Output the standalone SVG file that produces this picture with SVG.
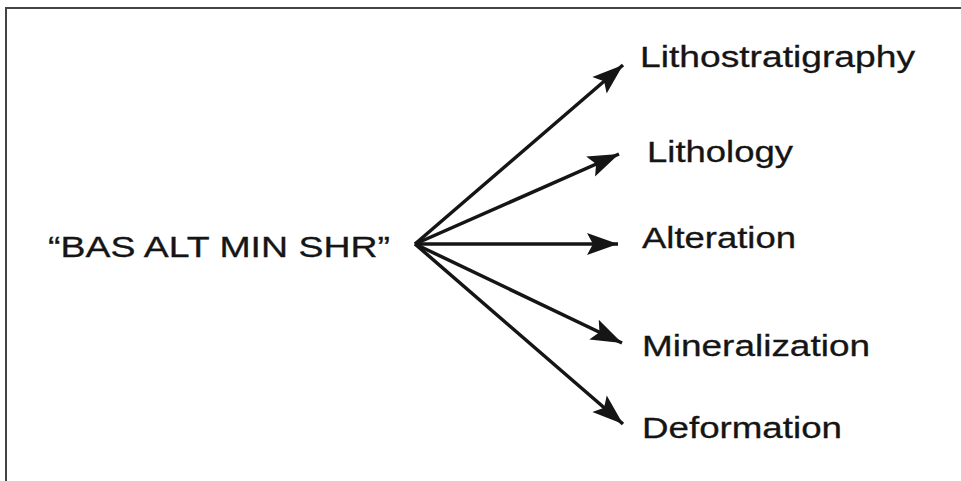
<svg xmlns="http://www.w3.org/2000/svg" width="961" height="481" viewBox="0 0 961 481">
<style>
.lbl{font-family:"Liberation Sans",Arial,sans-serif;font-size:29px;fill:#151515;stroke:#151515;stroke-width:0.3}
.con{stroke:#151515;stroke-width:3.5;fill:none;marker-end:url(#ah)}
</style>
<defs>
<marker id="ah" markerUnits="userSpaceOnUse" viewBox="-34 -14 36 28" refX="0" refY="0" markerWidth="36" markerHeight="28" orient="auto">
<path d="M0,0 L-31,-11 L-25,0 L-31,11 z" fill="#151515"/>
</marker>
</defs>
<rect x="0" y="0" width="961" height="481" fill="#fff"/>
<rect x="6" y="8" width="970" height="490" fill="none" stroke="#444" stroke-width="2"/>
<g id="connectors">
<line class="con" x1="415" y1="244" x2="623" y2="65"/>
<line class="con" x1="415" y1="244" x2="619" y2="154"/>
<line class="con" x1="415" y1="244" x2="618" y2="244"/>
<line class="con" x1="415" y1="244" x2="622" y2="343"/>
<line class="con" x1="415" y1="244" x2="623" y2="424"/>
</g>
<g id="source"><text class="lbl" x="48" y="257" textLength="342" lengthAdjust="spacingAndGlyphs">“BAS ALT MIN SHR”</text></g>
<g id="lithostratigraphy"><text class="lbl" x="640" y="67" textLength="275" lengthAdjust="spacingAndGlyphs">Lithostratigraphy</text></g>
<g id="lithology"><text class="lbl" x="647" y="162" textLength="146" lengthAdjust="spacingAndGlyphs">Lithology</text></g>
<g id="alteration"><text class="lbl" x="642" y="248" textLength="154" lengthAdjust="spacingAndGlyphs">Alteration</text></g>
<g id="mineralization"><text class="lbl" x="642" y="356" textLength="228" lengthAdjust="spacingAndGlyphs">Mineralization</text></g>
<g id="deformation"><text class="lbl" x="642" y="438" textLength="200" lengthAdjust="spacingAndGlyphs">Deformation</text></g>
</svg>
